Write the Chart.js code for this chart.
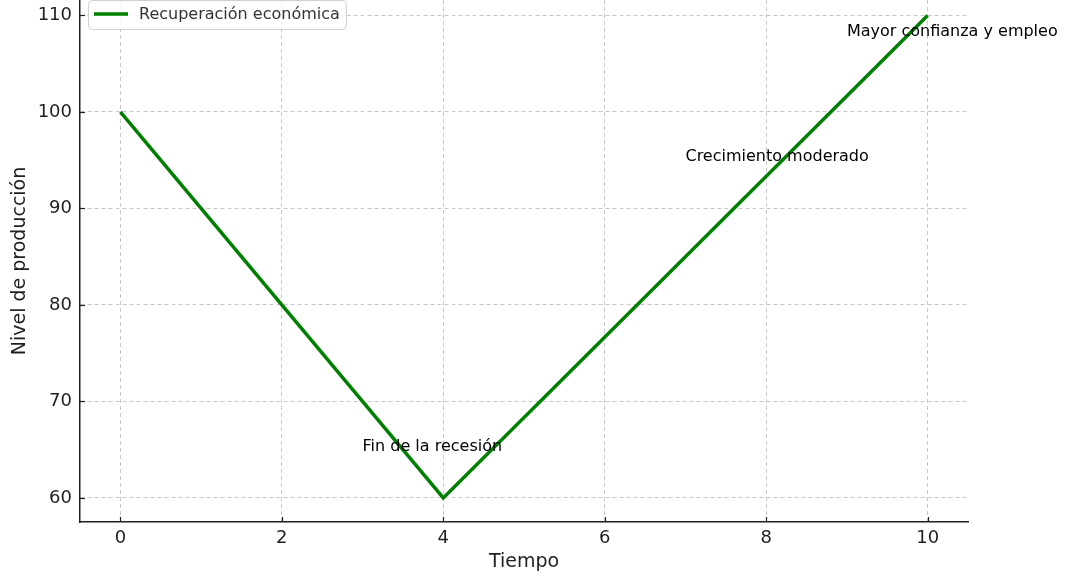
<!DOCTYPE html>
<html>
<head>
<meta charset="utf-8">
<script src="https://cdn.jsdelivr.net/npm/chart.js@4/dist/chart.umd.min.js"></script>
<style>
  html, body { margin: 0; padding: 0; background: #fff; }
  #wrap { width: 1069px; height: 584px; }
</style>
</head>
<body>
<div id="wrap"><canvas id="chart" width="1069" height="584"></canvas></div>
<script>
// Chart data
const seriesLabel = 'Recuperación económica';
const timeValues = [0, 4, 10];
const outputValues = [100, 60, 110];

const xTicks = [0, 2, 4, 6, 8, 10];
const yTicks = [60, 70, 80, 90, 100, 110];

const noteTexts = ['Fin de la recesión', 'Crecimiento moderado', 'Mayor confianza y empleo'];
const noteX = [3, 7, 9];
const noteY = [65, 95, 108];

const FONT = "'DejaVu Sans', sans-serif";
const INK = '#1f1f1f';

// Inward tick marks, like the original
const tickMarks = {
    id: 'tickMarks',
    afterDraw(chart) {
        const { ctx, chartArea, scales } = chart;
        ctx.save();
        ctx.strokeStyle = INK;
        ctx.lineWidth = 1.2;
        xTicks.forEach(v => {
            const px = Math.round(scales.x.getPixelForValue(v)) + 0.5;
            ctx.beginPath();
            ctx.moveTo(px, chartArea.bottom);
            ctx.lineTo(px, chartArea.bottom - 5);
            ctx.stroke();
        });
        yTicks.forEach(v => {
            const py = Math.round(scales.y.getPixelForValue(v)) + 0.5;
            ctx.beginPath();
            ctx.moveTo(chartArea.left, py);
            ctx.lineTo(chartArea.left + 5, py);
            ctx.stroke();
        });
        ctx.restore();
    }
};

// Text notes placed in data coordinates
const notes = {
    id: 'notes',
    afterDatasetsDraw(chart) {
        const { ctx, scales } = chart;
        ctx.save();
        ctx.font = '16px ' + FONT;
        ctx.fillStyle = '#000';
        ctx.textAlign = 'left';
        ctx.textBaseline = 'alphabetic';
        noteTexts.forEach((t, i) => {
            ctx.fillText(t, scales.x.getPixelForValue(noteX[i]), scales.y.getPixelForValue(noteY[i]) + 1);
        });
        ctx.restore();
    }
};

// Legend box in the upper left corner of the plot
const cornerLegend = {
    id: 'cornerLegend',
    afterDraw(chart) {
        const { ctx, chartArea } = chart;
        const ds = chart.data.datasets[0];
        const x = chartArea.left + 8, y = chartArea.top;
        ctx.save();
        ctx.font = '16px ' + FONT;
        const w = ctx.measureText(ds.label).width + 57;
        const h = 29;
        ctx.fillStyle = 'rgba(255,255,255,0.8)';
        ctx.strokeStyle = '#d0d0d0';
        ctx.lineWidth = 1;
        ctx.beginPath();
        ctx.roundRect(x + 0.5, y + 0.5, w, h, 4);
        ctx.fill();
        ctx.stroke();
        ctx.strokeStyle = ds.borderColor;
        ctx.lineWidth = 3.5;
        ctx.beginPath();
        ctx.moveTo(x + 6, y + 14);
        ctx.lineTo(x + 40, y + 14);
        ctx.stroke();
        ctx.fillStyle = '#333';
        ctx.textBaseline = 'middle';
        ctx.fillText(ds.label, x + 51, y + 15);
        ctx.restore();
    }
};

const ctx = document.getElementById('chart').getContext('2d');
new Chart(ctx, {
    type: 'line',
    data: {
        datasets: [{
            label: seriesLabel,
            data: timeValues.map((t, i) => ({ x: t, y: outputValues[i] })),
            borderColor: '#008000',
            borderWidth: 3.5,
            pointRadius: 0,
            tension: 0,
            fill: false
        }]
    },
    options: {
        responsive: false,
        animation: false,
        layout: { padding: { top: 0, right: 101, left: 0, bottom: 0 } },
        plugins: {
            legend: { display: false },
            tooltip: { enabled: false }
        },
        scales: {
            x: {
                type: 'linear',
                min: -0.5,
                max: 10.5,
                afterBuildTicks: s => { s.ticks = xTicks.map(v => ({ value: v })); },
                afterFit: s => { s.height = 62; s.paddingLeft = 0; s.paddingRight = 0; },
                grid: { color: '#c8c8c8', lineWidth: 1, drawTicks: false },
                border: { display: true, color: INK, width: 1.5, dash: [4, 3] },
                ticks: { color: INK, font: { family: FONT, size: 18 }, padding: 6, maxRotation: 0 },
                title: { display: true, text: 'Tiempo', color: INK, font: { family: FONT, size: 19 }, padding: { top: 4, bottom: 11 } }
            },
            y: {
                type: 'linear',
                min: 57.5,
                max: 111.6,
                afterBuildTicks: s => { s.ticks = yTicks.map(v => ({ value: v })); },
                afterFit: s => { s.width = 80; s.paddingTop = 0; s.paddingBottom = 0; },
                grid: { color: '#c8c8c8', lineWidth: 1, drawTicks: false },
                border: { display: true, color: INK, width: 1.5, dash: [4, 3] },
                ticks: { color: INK, font: { family: FONT, size: 18 }, padding: 8 },
                title: { display: true, text: 'Nivel de producción', color: INK, font: { family: FONT, size: 19 }, padding: { top: 9, bottom: 4 } }
            }
        }
    },
    plugins: [tickMarks, notes, cornerLegend]
});
</script>
</body>
</html>
